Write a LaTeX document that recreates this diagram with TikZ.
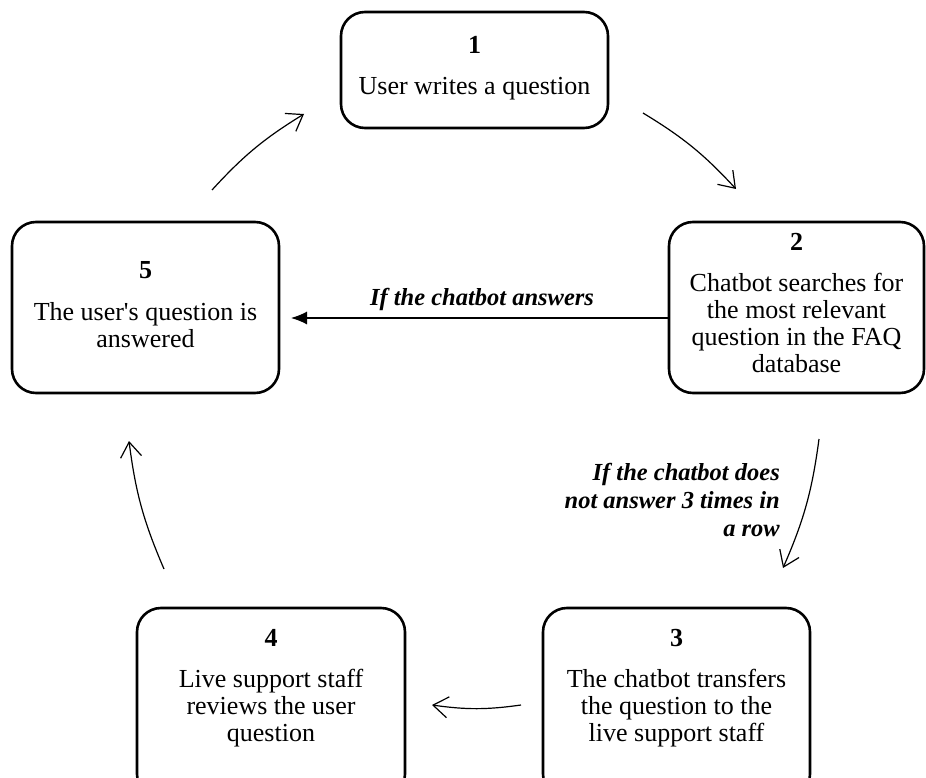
\documentclass[tikz,border=0pt]{standalone}
\usepackage{fontspec}
\setmainfont{Liberation Serif}[Ligatures=TeXOff]
\usetikzlibrary{arrows.meta,calc}
\begin{document}
\begin{tikzpicture}[x=1pt,y=-1pt,
  box/.style={draw,line width=2.6pt,rounded corners=24pt,inner sep=0pt},
  txt/.style={align=center,font=\fontsize{26}{27}\selectfont,inner sep=0pt},
  lbl/.style={font=\fontsize{24.5}{28}\selectfont\bfseries\itshape,inner sep=0pt},
  flow/.style={line width=1.2pt,-{Straight Barb[length=15pt,width=21pt]},bend left=8}]
\useasboundingbox (0,0) rectangle (926,778);
% boxes
\node[box,minimum width=267pt,minimum height=116pt] (b1) at (474.5,70) {};
\node[box,minimum width=255pt,minimum height=171pt] (b2) at (796.5,307.5) {};
\node[box,minimum width=267pt,minimum height=190pt] (b3) at (676.5,703) {};
\node[box,minimum width=268pt,minimum height=190pt] (b4) at (271,703) {};
\node[box,minimum width=267pt,minimum height=171pt] (b5) at (145.5,307.5) {};
% texts
\node[txt] (t1) at (b1.center |- 0,68) {\textbf{1}\\[14pt]User writes a question};
\node[txt] (t2) at (b2.center |- 0,303.5) {\textbf{2}\\[14pt]Chatbot searches for\\the most relevant\\question in the FAQ\\database};
\node[txt] (t3) at (b3.center |- 0,688.5) {\textbf{3}\\[14pt]The chatbot transfers\\the question to the\\live support staff};
\node[txt] (t4) at (b4.center |- 0,688.5) {\textbf{4}\\[14pt]Live support staff\\reviews the user\\question};
\node[txt] (t5) at (b5.center |- 0,305) {\textbf{5}\\[15pt]The user's question is\\answered};
% labels
\node[lbl] (l1) at (482,299) {If the chatbot answers};
\node[lbl,align=right,anchor=east] (l2) at (780,500) {If the chatbot does\\not answer 3 times in\\a row};
% connector end points
\coordinate (a1s) at (212,190); \coordinate (a1e) at (304,114);
\coordinate (a2s) at (643,113); \coordinate (a2e) at (736,189);
\coordinate (a3s) at (819,439); \coordinate (a3e) at (783,568);
\coordinate (a4s) at (521,705); \coordinate (a4e) at (432,705);
\coordinate (a5s) at (164,569); \coordinate (a5e) at (129,441);
\coordinate (ah) at (291,318);
% connectors
\draw[flow] (a1s) to (a1e);
\draw[flow] (a2s) to (a2e);
\draw[flow] (a3s) to (a3e);
\draw[flow] (a4s) to (a4e);
\draw[flow] (a5s) to (a5e);
\draw[line width=1.2pt,-{Latex[length=16pt,width=13pt]}] (b2.west |- ah) -- (ah);
\end{tikzpicture}
\end{document}
